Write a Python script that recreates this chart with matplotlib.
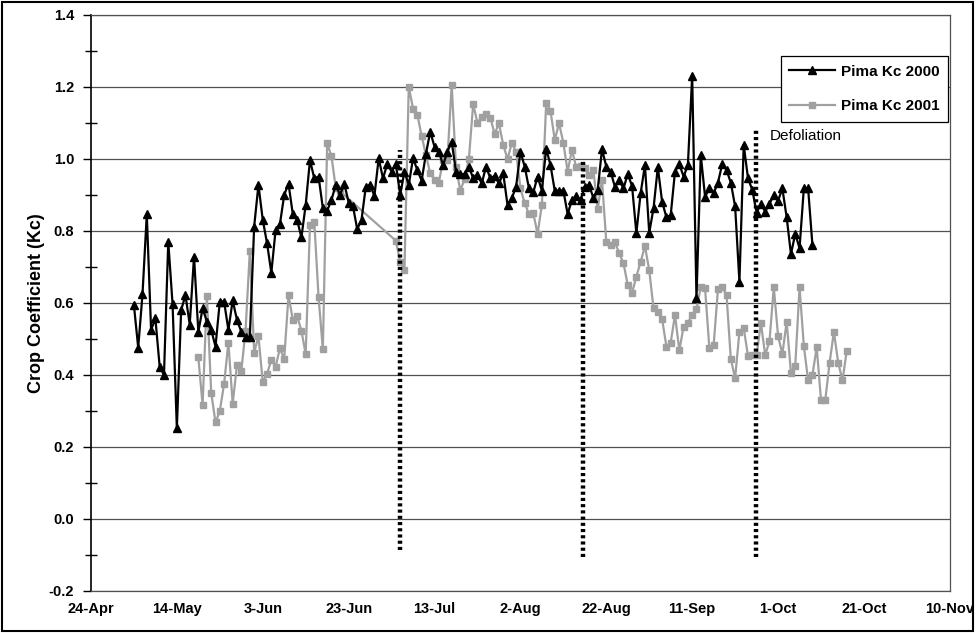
import numpy as np
import matplotlib.pyplot as plt
import matplotlib.dates as mdates
from matplotlib.patches import Rectangle
from matplotlib.ticker import MultipleLocator

plt.rcParams['font.family'] = ['Liberation Sans', 'DejaVu Sans']

# daily crop coefficients, 2000 season (first day 4 May)
kc_2000_start = '2000-05-04'
kc_2000 = [
    0.594, 0.476, 0.624, 0.846, 0.525, 0.557, 0.423, 0.400, 0.770, 0.597,
    0.252, 0.580, 0.622, 0.540, 0.729, 0.520, 0.585, 0.548, 0.525, 0.479,
    0.604, 0.604, 0.525, 0.607, 0.553, 0.520, 0.506, 0.506, 0.812, 0.928,
    0.831, 0.766, 0.684, 0.803, 0.819, 0.900, 0.931, 0.847, 0.831, 0.782,
    0.872, 0.997, 0.946, 0.951, 0.863, 0.856, 0.886, 0.928, 0.900, 0.931,
    0.879, 0.869, 0.805, 0.831, 0.923, 0.928, 0.897, 1.002, 0.946, 0.986,
    0.965, 0.986, 0.900, 0.965, 0.928, 1.002, 0.969, 0.940, 1.014, 1.076,
    1.034, 1.020, 0.983, 1.020, 1.048, 0.965, 0.958, 0.958, 0.979, 0.946,
    0.955, 0.932, 0.979, 0.946, 0.953, 0.932, 0.960, 0.872, 0.891, 0.923,
    1.020, 0.979, 0.918, 0.907, 0.951, 0.912, 1.029, 0.983, 0.912, 0.912,
    0.912, 0.847, 0.886, 0.897, 0.886, 0.923, 0.928, 0.891, 0.914, 1.027,
    0.979, 0.965, 0.923, 0.942, 0.918, 0.958, 0.925, 0.794, 0.905, 0.983,
    0.795, 0.863, 0.977, 0.881, 0.838, 0.844, 0.965, 0.986, 0.951, 0.983,
    1.231, 0.613, 1.011, 0.895, 0.918, 0.905, 0.934, 0.986, 0.969, 0.934,
    0.868, 0.659, 1.039, 0.946, 0.914, 0.851, 0.875, 0.854, 0.875, 0.900,
    0.884, 0.918, 0.838, 0.736, 0.792, 0.752, 0.918, 0.918, 0.761,
]

# 2001 season on the same calendar, two daily runs with a gap between them
kc_2001_start_a = '2000-05-19'
kc_2001_a = [
    0.449, 0.317, 0.620, 0.351, 0.268, 0.300, 0.375, 0.490, 0.320, 0.428,
    0.410, 0.523, 0.745, 0.462, 0.508, 0.380, 0.403, 0.442, 0.423, 0.474,
    0.444, 0.622, 0.553, 0.564, 0.523, 0.458, 0.817, 0.826, 0.616, 0.471,
    1.044, 1.008, 0.920, 0.910,
]
kc_2001_start_b = '2000-07-04'
kc_2001_b = [
    0.773, 0.715, 0.692, 1.200, 1.140, 1.123, 1.064, 1.011, 0.960, 0.942,
    0.934, 0.996, 0.998, 1.205, 0.979, 0.912, 0.944, 0.999, 1.153, 1.100,
    1.117, 1.125, 1.115, 1.069, 1.099, 1.039, 1.000, 1.044, 1.020, 0.918,
    0.877, 0.847, 0.849, 0.792, 0.872, 1.155, 1.134, 1.053, 1.099, 1.045,
    0.965, 1.025, 0.977, 0.981, 0.974, 0.955, 0.968, 0.860, 0.942, 0.770,
    0.761, 0.770, 0.738, 0.710, 0.650, 0.628, 0.673, 0.714, 0.758, 0.691,
    0.585, 0.574, 0.555, 0.479, 0.490, 0.567, 0.468, 0.534, 0.545, 0.567,
    0.582, 0.644, 0.641, 0.474, 0.483, 0.638, 0.644, 0.622, 0.444, 0.391,
    0.520, 0.530, 0.453, 0.455, 0.455, 0.544, 0.456, 0.493, 0.644, 0.508,
    0.458, 0.548, 0.406, 0.425, 0.644, 0.481, 0.385, 0.400, 0.477, 0.330,
    0.331, 0.434, 0.520, 0.434, 0.385, 0.467,
]

# management markers: dotted verticals (date, bottom, top)
event_dates = ['2000-07-05', '2000-08-16T12', '2000-09-25T18']
event_bottoms = [-0.085, -0.105, -0.105]
event_tops = [1.025, 1.0, 1.08]

tick_dates = ['2000-04-24', '2000-05-14', '2000-06-03', '2000-06-23', '2000-07-13',
              '2000-08-02', '2000-08-22', '2000-09-11', '2000-10-01', '2000-10-21',
              '2000-11-10']


def daily(start, values):
    d0 = np.datetime64(start, 'D')
    return d0 + np.arange(len(values))


d2000 = daily(kc_2000_start, kc_2000)
d2001 = np.concatenate([daily(kc_2001_start_a, kc_2001_a), daily(kc_2001_start_b, kc_2001_b)])
v2001 = kc_2001_a + kc_2001_b

fig = plt.figure(figsize=(9.76, 6.33), dpi=100)
ax = fig.add_axes([0.0932, 0.0664, 0.880, 0.910])

for y in np.arange(-0.2, 1.41, 0.2):
    ax.axhline(y, color='#505050', lw=0.9, zorder=1)

ax.plot(d2001, v2001, color='#a0a0a0', lw=1.6, marker='s', ms=4.2,
        mec='#a0a0a0', mfc='#a0a0a0', label='Pima Kc 2001', zorder=3)
ax.plot(d2000, kc_2000, color='black', lw=1.6, marker='^', ms=5.5,
        label='Pima Kc 2000', zorder=4)

for d, lo, hi in zip(event_dates, event_bottoms, event_tops):
    x = mdates.date2num(np.datetime64(d))
    ax.plot([x, x], [lo, hi], color='black', lw=3.2, ls=(0, (0.7, 0.7)), zorder=5)

ax.text(mdates.date2num(np.datetime64('2000-09-29')), 1.065, 'Defoliation',
        fontsize=11, va='center', ha='left')

ax.set_xlim(mdates.date2num(np.datetime64('2000-04-24')),
            mdates.date2num(np.datetime64('2000-11-10')))
ax.set_ylim(-0.2, 1.4)
ax.set_xticks(mdates.date2num(np.array(tick_dates, dtype='datetime64[D]')))
ax.xaxis.set_major_formatter(mdates.DateFormatter('%-d-%b'))
ax.yaxis.set_major_locator(MultipleLocator(0.2))
ax.yaxis.set_minor_locator(MultipleLocator(0.1))
ax.yaxis.set_major_formatter(plt.FuncFormatter(lambda v, p: f'{v:.1f}'))

ax.tick_params(axis='y', which='major', direction='out', length=6, width=1,
               labelsize=10.5, pad=6)
ax.tick_params(axis='y', which='minor', direction='inout', length=8, width=1)
ax.tick_params(axis='x', which='major', length=0, labelsize=10.5, pad=8)
for lab in ax.get_xticklabels() + ax.get_yticklabels():
    lab.set_fontweight('bold')

for side in ['top', 'right', 'bottom']:
    ax.spines[side].set_color('#505050')
    ax.spines[side].set_linewidth(0.9)
ax.spines['left'].set_color('black')
ax.spines['left'].set_linewidth(1.2)

ax.set_ylabel('Crop Coefficient (Kc)', fontsize=13, fontweight='bold', labelpad=3)

handles, labels = ax.get_legend_handles_labels()
leg = ax.legend(handles[::-1], labels[::-1], loc='upper right',
                bbox_to_anchor=(0.998, 0.928), borderaxespad=0, frameon=True,
                fancybox=False, edgecolor='black', framealpha=1,
                prop={'weight': 'bold', 'size': 11},
                labelspacing=1.35, handlelength=3.0, borderpad=0.55, handletextpad=0.4)
leg.get_frame().set_linewidth(0.9)

fig.patches.append(Rectangle((0.002, 0.003), 0.995, 0.994, transform=fig.transFigure,
                             fill=False, edgecolor='black', lw=1.5))

fig.savefig('out.png', dpi=100)
